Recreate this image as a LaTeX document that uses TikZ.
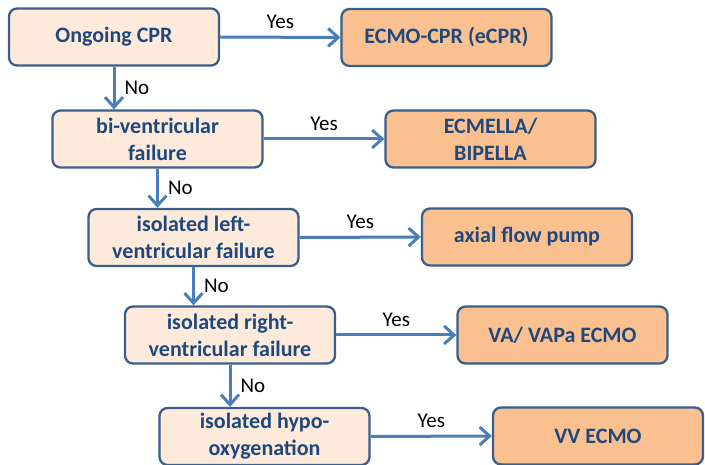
\documentclass[tikz,border=0pt]{standalone}
\usepackage{fontspec}
\setmainfont{Carlito}
\usetikzlibrary{arrows.meta}
\definecolor{lightbox}{HTML}{FDEADA}
\definecolor{orangebox}{HTML}{FAC090}
\definecolor{boxborder}{HTML}{3A5F8B}
\definecolor{boxtext}{HTML}{1F497D}
\definecolor{arrowblue}{HTML}{4A7EBB}
\tikzset{
  basebox/.style={draw=boxborder, line width=2.3pt, rounded corners=8pt,
    minimum width=210pt, minimum height=57pt, align=center, inner sep=2pt,
    text=boxtext, font=\bfseries\fontsize{22}{27}\selectfont},
  qbox/.style={basebox, fill=lightbox},
  abox/.style={basebox, fill=orangebox},
  flow/.style={draw=arrowblue, line width=3pt, -{Straight Barb[length=10pt,width=18pt,line width=3pt]}},
  lbl/.style={font=\fontsize{21}{25}\selectfont, text=black, inner sep=1pt}
}
\begin{document}
\begin{tikzpicture}[x=1pt,y=-1pt]
\useasboundingbox (0,0) rectangle (705,465);
\node[qbox] (A) at (114,37) {Ongoing CPR};
\node[abox] (B) at (446.5,37.5) {ECMO-CPR (eCPR)};
\node[qbox] (C) at (157.5,139) {bi-ventricular\\failure};
\node[abox] (D) at (490.5,139) {ECMELLA/\\BIPELLA};
\node[qbox] (E) at (193.5,237.5) {isolated left-\\ventricular failure};
\node[abox] (F) at (527,237) {axial flow pump};
\node[qbox] (G) at (230,335) {isolated right-\\ventricular failure};
\node[abox] (H) at (562.5,335) {VA/ VAPa ECMO};
\node[qbox] (I) at (264.5,436.5) {isolated hypo-\\oxygenation};
\node[abox] (J) at (598,436) {VV ECMO};

\draw[flow] (A.east) -- node[lbl, above=6pt] {Yes} (B.west);
\draw[flow] (C.east) -- node[lbl, above=6pt] {Yes} (D.west);
\draw[flow] (E.east) -- node[lbl, above=6pt] {Yes} (F.west);
\draw[flow] (G.east) -- node[lbl, above=6pt] {Yes} (H.west);
\draw[flow] (I.east) -- node[lbl, above=6pt] {Yes} (J.west);

\draw[flow] (A.south) -- node[lbl, right=8pt] {No} (A.south |- C.north);
\draw[flow] (C.south) -- node[lbl, right=8pt] {No} (C.south |- E.north);
\draw[flow] (E.south) -- node[lbl, right=8pt] {No} (E.south |- G.north);
\draw[flow] (G.south) -- node[lbl, right=8pt] {No} (G.south |- I.north);
\end{tikzpicture}
\end{document}
